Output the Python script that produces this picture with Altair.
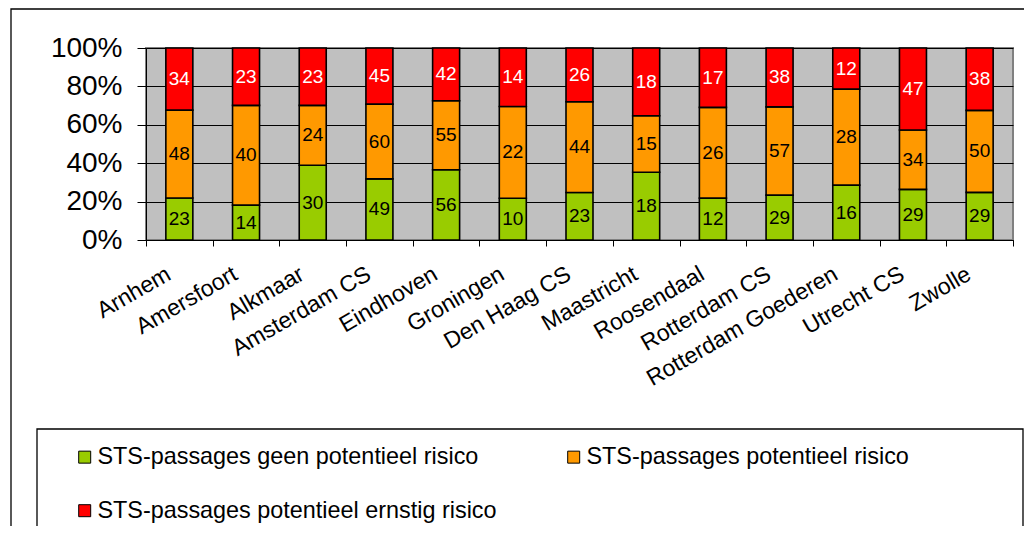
import altair as alt
import pandas as pd

stations = ["Arnhem", "Amersfoort", "Alkmaar", "Amsterdam CS", "Eindhoven", "Groningen",
            "Den Haag CS", "Maastricht", "Roosendaal", "Rotterdam CS", "Rotterdam Goederen",
            "Utrecht CS", "Zwolle"]
geen = [23, 14, 30, 49, 56, 10, 23, 18, 12, 29, 16, 29, 29]
potentieel = [48, 40, 24, 60, 55, 22, 44, 15, 26, 57, 28, 34, 50]
ernstig = [34, 23, 23, 45, 42, 14, 26, 18, 17, 38, 12, 47, 38]
series = ["STS-passages geen potentieel risico", "STS-passages potentieel risico",
          "STS-passages potentieel ernstig risico"]
colors = ["#99CC00", "#FF9900", "#FF0000"]
label_colors = ["black", "black", "white"]
y_ticks = [0, 0.2, 0.4, 0.6, 0.8, 1.0]

rows = []
for k, (name, vals) in enumerate(zip(series, [geen, potentieel, ernstig])):
    for st, v in zip(stations, vals):
        rows.append({"station": st, "series": name, "value": v, "order": k, "tc": label_colors[k]})
df = pd.DataFrame(rows)

FONT = "Liberation Sans"
PX, PY = 146, 48
W, H = 867, 192

x_axis = alt.Axis(labelAngle=-30, labelAlign="right", labelBaseline="middle",
                  labelFontSize=23, labelFont=FONT, labelColor="black",
                  labelOffset=-11, labelPadding=26, labelOverlap=False,
                  labelLimit=500, tickBand="extent", tickSize=6, tickColor="black",
                  tickWidth=1, domainColor="black", domainWidth=1, grid=False)
x_scale = alt.Scale(paddingInner=0, paddingOuter=0)

y_axis = alt.Axis(values=y_ticks, format=".0%", labelFontSize=28, labelFont=FONT,
                  labelColor="black", labelPadding=15, tickSize=9, tickColor="black",
                  domainColor="black", domainWidth=1, grid=True, gridColor="black",
                  gridWidth=1, gridOpacity=1)
y_scale = alt.Scale(domain=[0, 1], nice=False)

base = alt.Chart(df)

bars = base.mark_bar(size=27, stroke="black", strokeWidth=1.6).encode(
    x=alt.X("station:N", sort=stations, title=None, scale=x_scale, axis=x_axis),
    y=alt.Y("value:Q", stack="normalize", title=None, scale=y_scale, axis=y_axis),
    color=alt.Color("series:N", scale=alt.Scale(domain=series, range=colors),
                    legend=alt.Legend(title=None, orient="none", legendX=-73, legendY=397,
                                      direction="horizontal", columns=2, columnPadding=65,
                                      rowPadding=29, labelFontSize=23.4, labelFont=FONT,
                                      labelColor="black", labelLimit=600, symbolType="square",
                                      symbolSize=144, symbolStrokeColor="black",
                                      symbolStrokeWidth=1, labelOffset=1, padding=0)),
    order=alt.Order("order:Q"),
)

labels_base = base.transform_joinaggregate(
    total="sum(value)", groupby=["station"]
).transform_calculate(
    frac="datum.value / datum.total"
).transform_window(
    cum="sum(frac)", groupby=["station"], sort=[alt.SortField("order")], frame=[None, 0]
).transform_calculate(
    mid="datum.cum - datum.frac / 2"
)


def label_layer(col):
    return labels_base.transform_filter(f"datum.tc == '{col}'").mark_text(
        font=FONT, fontSize=19, color=col, align="center", baseline="middle"
    ).encode(
        x=alt.X("station:N", sort=stations, title=None, scale=x_scale, axis=x_axis),
        y=alt.Y("mid:Q", title=None, scale=y_scale, axis=y_axis),
        text="value:Q",
    )


text_dark = label_layer("black")
text_light = label_layer("white")

deco = alt.Data(values=[{"k": 0}])
outer = alt.Chart(deco).mark_rect(fillOpacity=0, stroke="black", strokeWidth=1.3).encode(
    x=alt.value(11 - PX), x2=alt.value(1030 - PX), y=alt.value(9 - PY), y2=alt.value(700)
)
legend_box = alt.Chart(deco).mark_rect(fillOpacity=0, stroke="black", strokeWidth=1.3).encode(
    x=alt.value(37 - PX), x2=alt.value(1023 - PX), y=alt.value(429 - PY), y2=alt.value(700)
)

chart = alt.layer(outer, legend_box, bars, text_dark, text_light).properties(
    width=W, height=H,
    padding={"left": PX - 8, "top": PY - 8, "right": 1016 - (PX - 8) - W, "bottom": 518 - (PY - 8) - H},
    autosize=alt.AutoSizeParams(type="none"),
    background="white",
).configure_view(stroke="#808080", strokeWidth=2, fill="#C0C0C0")

chart.save("out.html", embed_options={"renderer": "svg", "actions": False})
